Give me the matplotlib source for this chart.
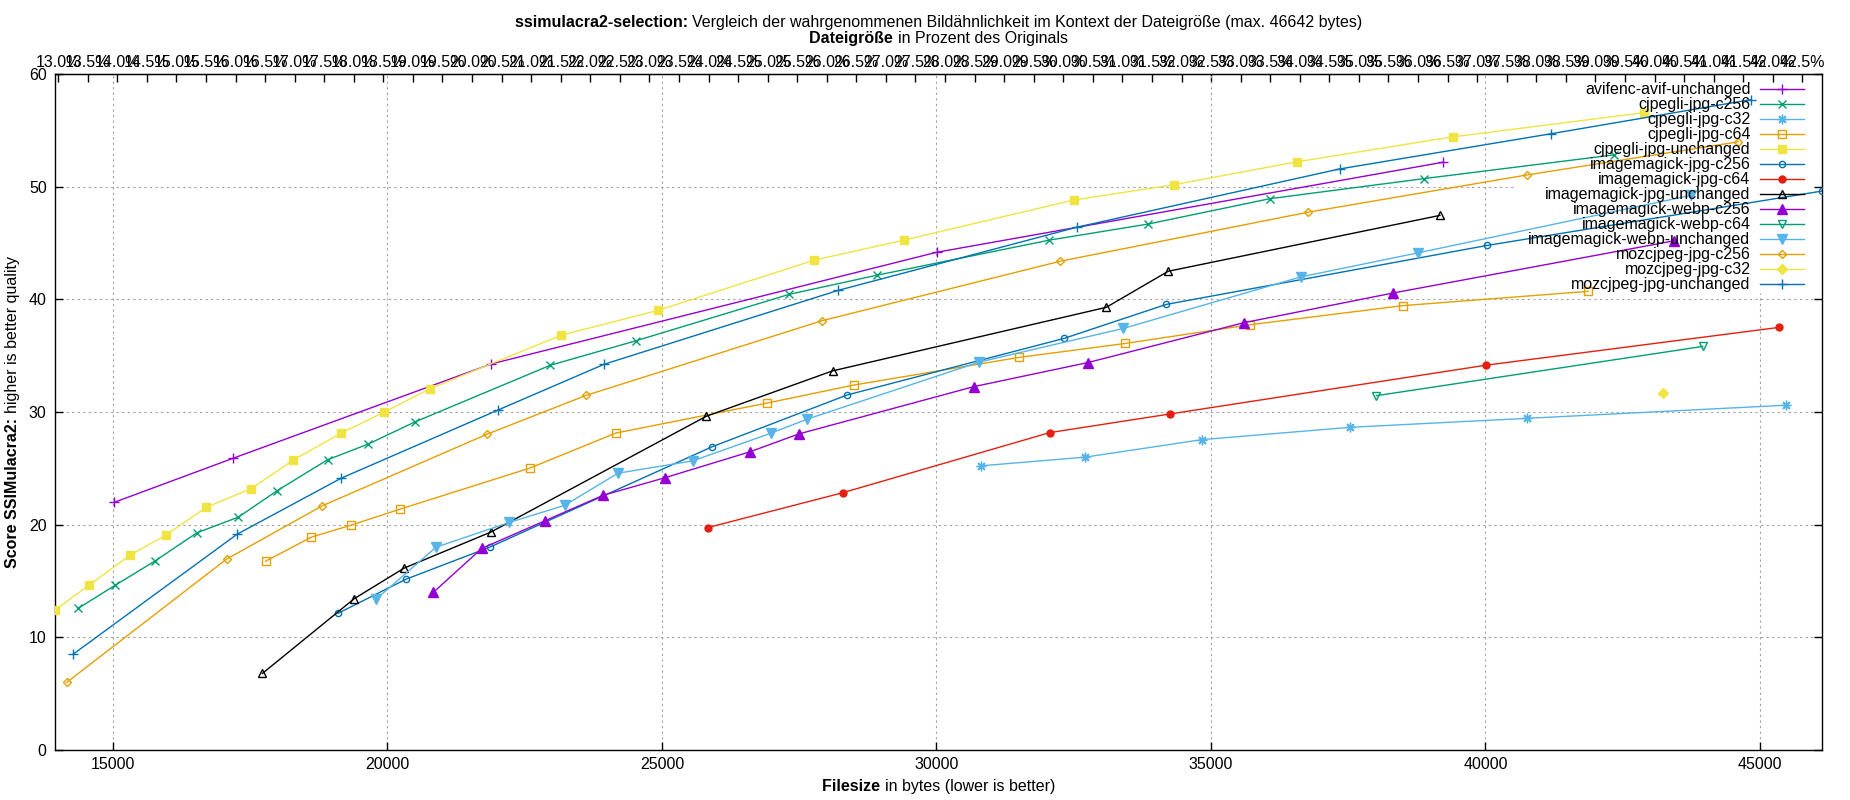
import numpy as np
import matplotlib
matplotlib.use('Agg')
import matplotlib.pyplot as plt

plt.rcParams['font.family'] = ['Liberation Sans', 'DejaVu Sans']

# --- data: filesize (bytes) / SSIMulacra2 score ---
avifenc_avif_unchanged_x = [15022, 17191, 21894, 30007, 39230]
avifenc_avif_unchanged_y = [21.98, 25.90, 34.27, 44.18, 52.17]

cjpegli_jpg_c256_x = [14368, 15043, 15761, 16530, 17284, 17989, 18908, 19648, 20496,
                      22967, 24526, 27323, 28915, 32051, 33853, 36071, 38874, 42339]
cjpegli_jpg_c256_y = [12.58, 14.63, 16.76, 19.28, 20.67, 23.01, 25.76, 27.15, 29.11,
                      34.15, 36.32, 40.45, 42.14, 45.25, 46.68, 48.93, 50.71, 52.82]

cjpegli_jpg_c32_x = [30803, 32703, 34842, 37532, 40765, 45467]
cjpegli_jpg_c32_y = [25.22, 25.99, 27.55, 28.64, 29.44, 30.60]

cjpegli_jpg_c64_x = [17780, 18614, 19339, 20230, 22593, 24159, 26922, 28492, 31495,
                     33435, 35706, 38494, 41877]
cjpegli_jpg_c64_y = [16.76, 18.89, 19.96, 21.38, 25.02, 28.13, 30.80, 32.39, 34.84,
                     36.08, 37.74, 39.44, 40.71]

cjpegli_jpg_unchanged_x = [13944, 14562, 15309, 15963, 16703, 17522, 18283, 19159, 19943,
                           20780, 23169, 24930, 27768, 29402, 32497, 34333, 36561, 39401, 42881]
cjpegli_jpg_unchanged_y = [12.41, 14.63, 17.29, 19.07, 21.55, 23.21, 25.73, 28.13, 29.99,
                           32.08, 36.82, 39.02, 43.47, 45.25, 48.81, 50.18, 52.20, 54.42, 56.56]

imagemagick_jpg_c256_x = [19102, 20338, 21861, 25907, 28366, 32323, 34187, 40026, 46131]
imagemagick_jpg_c256_y = [12.14, 15.16, 18.00, 26.90, 31.50, 36.53, 39.55, 44.78, 49.61]

imagemagick_jpg_c64_x = [25835, 28290, 32063, 34260, 40019, 45349]
imagemagick_jpg_c64_y = [19.74, 22.83, 28.17, 29.83, 34.16, 37.51]

imagemagick_jpg_unchanged_x = [17723, 19397, 20302, 21882, 25807, 28108, 33094, 34221, 39171]
imagemagick_jpg_unchanged_y = [6.80, 13.44, 16.14, 19.34, 29.62, 33.65, 39.29, 42.49, 47.45]

imagemagick_webp_c256_x = [20833, 21717, 22866, 23925, 25050, 26598, 27491, 30680, 32761,
                           35595, 38316, 43431]
imagemagick_webp_c256_y = [13.98, 17.89, 20.34, 22.60, 24.16, 26.46, 28.05, 32.25, 34.39,
                           37.92, 40.56, 45.19]

imagemagick_webp_c64_x = [38015, 43959]
imagemagick_webp_c64_y = [31.45, 35.82]

imagemagick_webp_unchanged_x = [19799, 20884, 22220, 23226, 24200, 25562, 26980, 27636, 30772,
                                33407, 36636, 38777, 43743]
imagemagick_webp_unchanged_y = [13.41, 18.00, 20.20, 21.71, 24.57, 25.66, 28.11, 29.35, 34.42,
                                37.42, 41.99, 44.13, 49.23]

mozcjpeg_jpg_c256_x = [14159, 17069, 18815, 21818, 23621, 27914, 32253, 36777, 40755, 44606]
mozcjpeg_jpg_c256_y = [6.01, 16.94, 21.68, 28.04, 31.48, 38.10, 43.38, 47.74, 51.04, 53.98]

mozcjpeg_jpg_c32_x = [43228]
mozcjpeg_jpg_c32_y = [31.65]

mozcjpeg_jpg_unchanged_x = [14274, 17263, 19159, 22011, 23948, 28213, 32566, 37342, 41186, 44829]
mozcjpeg_jpg_unchanged_y = [8.50, 19.16, 24.13, 30.17, 34.24, 40.80, 46.41, 51.57, 54.69, 57.72]

ORIGINAL_SIZE = 107700  # bytes, for the percent axis on top

x_ticks = [15000, 20000, 25000, 30000, 35000, 40000, 45000]
y_ticks = [0, 10, 20, 30, 40, 50, 60]

# gnuplot default colours
purple, green, lblue, orange, yellow, blue, red, black = (
    '#9400d3', '#009e73', '#56b4e9', '#e69f00', '#f0e442', '#0072b2', '#e51e10', '#000000')
star = (8, 2, 0)

series = [
    ('avifenc-avif-unchanged', avifenc_avif_unchanged_x, avifenc_avif_unchanged_y, purple, '+', True, 7),
    ('cjpegli-jpg-c256', cjpegli_jpg_c256_x, cjpegli_jpg_c256_y, green, 'x', True, 6),
    ('cjpegli-jpg-c32', cjpegli_jpg_c32_x, cjpegli_jpg_c32_y, lblue, star, True, 7),
    ('cjpegli-jpg-c64', cjpegli_jpg_c64_x, cjpegli_jpg_c64_y, orange, 's', False, 6),
    ('cjpegli-jpg-unchanged', cjpegli_jpg_unchanged_x, cjpegli_jpg_unchanged_y, yellow, 's', True, 6),
    ('imagemagick-jpg-c256', imagemagick_jpg_c256_x, imagemagick_jpg_c256_y, blue, 'o', False, 4.5),
    ('imagemagick-jpg-c64', imagemagick_jpg_c64_x, imagemagick_jpg_c64_y, red, 'o', True, 5),
    ('imagemagick-jpg-unchanged', imagemagick_jpg_unchanged_x, imagemagick_jpg_unchanged_y, black, '^', False, 6),
    ('imagemagick-webp-c256', imagemagick_webp_c256_x, imagemagick_webp_c256_y, purple, '^', True, 6.5),
    ('imagemagick-webp-c64', imagemagick_webp_c64_x, imagemagick_webp_c64_y, green, 'v', False, 6),
    ('imagemagick-webp-unchanged', imagemagick_webp_unchanged_x, imagemagick_webp_unchanged_y, lblue, 'v', True, 6.5),
    ('mozcjpeg-jpg-c256', mozcjpeg_jpg_c256_x, mozcjpeg_jpg_c256_y, orange, 'D', False, 4.5),
    ('mozcjpeg-jpg-c32', mozcjpeg_jpg_c32_x, mozcjpeg_jpg_c32_y, yellow, 'D', True, 5),
    ('mozcjpeg-jpg-unchanged', mozcjpeg_jpg_unchanged_x, mozcjpeg_jpg_unchanged_y, blue, '+', True, 7),
]

W, H = 1850, 800
FS = 11.5
fig = plt.figure(figsize=(W / 100, H / 100), dpi=100)
# axes box in pixels: left 55, right 1822, top 74, bottom 750
ax = fig.add_axes([55 / W, 1 - 750 / H, (1822 - 55) / W, (750 - 74) / H])

for name, xs, ys, c, m, filled, ms in series:
    ax.plot(xs, ys, color=c, lw=1.0, marker=m, ms=ms, mew=1.0,
            mfc=c if filled else 'none', mec=c, label=name, zorder=3)

all_x = np.concatenate([np.asarray(s[1]) for s in series])
xmin, xmax = all_x.min(), all_x.max()
ax.set_xlim(xmin, xmax)
ax.set_ylim(0, 60)

# grid (hidden behind the key box, like gnuplot does)
key_x0, key_y0 = 40565, 40.6
gkw = dict(color='#a0a0a0', lw=0.8, ls=(0, (2, 3)), zorder=1)
for yv in y_ticks[1:-1]:
    ax.plot([xmin, key_x0 if yv > key_y0 else xmax], [yv, yv], **gkw)
for xv in x_ticks:
    ax.plot([xv, xv], [0, key_y0 if xv > key_x0 else 60], **gkw)

ax.set_xticks(x_ticks)
ax.set_yticks(y_ticks)
ax.tick_params(axis='x', direction='in', length=5.5, width=1, top=False, labelsize=FS, pad=5)
ax.tick_params(axis='y', direction='in', length=5.5, width=1, right=True, labelsize=FS, pad=6)
for sp in ax.spines.values():
    sp.set_linewidth(1.0)

sec = ax.secondary_xaxis('top', functions=(lambda x: x / ORIGINAL_SIZE * 100,
                                           lambda p: p * ORIGINAL_SIZE / 100))
sec.set_xticks(np.arange(13.0, 42.51, 0.5))
sec.xaxis.set_major_formatter(matplotlib.ticker.FormatStrFormatter('%.1f%%'))
sec.tick_params(direction='in', length=5.5, width=1, labelsize=FS, pad=3)

ax.legend(loc='upper right', bbox_to_anchor=(0.9898, 0.9879), borderpad=0, borderaxespad=0,
          frameon=False, markerfirst=False, handlelength=2.75, handletextpad=0.6,
          labelspacing=0.0, fontsize=FS)

renderer = fig.canvas.get_renderer()


def mixed(cx, cy, bold, rest, rotation=0):
    # bold part followed by regular text, centred on pixel (cx, cy) measured from the top
    t1 = fig.text(0, 0, bold, fontsize=FS, weight='bold', rotation=rotation)
    t2 = fig.text(0, 0, rest, fontsize=FS, rotation=rotation)
    e1 = t1.get_window_extent(renderer)
    e2 = t2.get_window_extent(renderer)
    if rotation == 0:
        x0 = cx - (e1.width + e2.width) / 2
        t1.set_position((x0 / W, 1 - cy / H))
        t2.set_position(((x0 + e1.width) / W, 1 - cy / H))
        for t in (t1, t2):
            t.set_ha('left'); t.set_va('center_baseline')
    else:
        y0 = (H - cy) - (e1.height + e2.height) / 2
        t1.set_position((cx / W, y0 / H))
        t2.set_position((cx / W, (y0 + e1.height) / H))
        for t in (t1, t2):
            t.set_ha('center'); t.set_va('bottom')


cx = (55 + 1822) / 2
mixed(cx, 21, 'ssimulacra2-selection: ',
      'Vergleich der wahrgenommenen Bildähnlichkeit im Kontext der Dateigröße (max. 46642 bytes)')
mixed(cx, 37, 'Dateigröße ', 'in Prozent des Originals')
mixed(cx, 785, 'Filesize ', 'in bytes (lower is better)')
mixed(13, (74 + 750) / 2, 'Score SSIMulacra2: ', 'higher is better quality', rotation=90)

fig.savefig('out.png', dpi=100)
